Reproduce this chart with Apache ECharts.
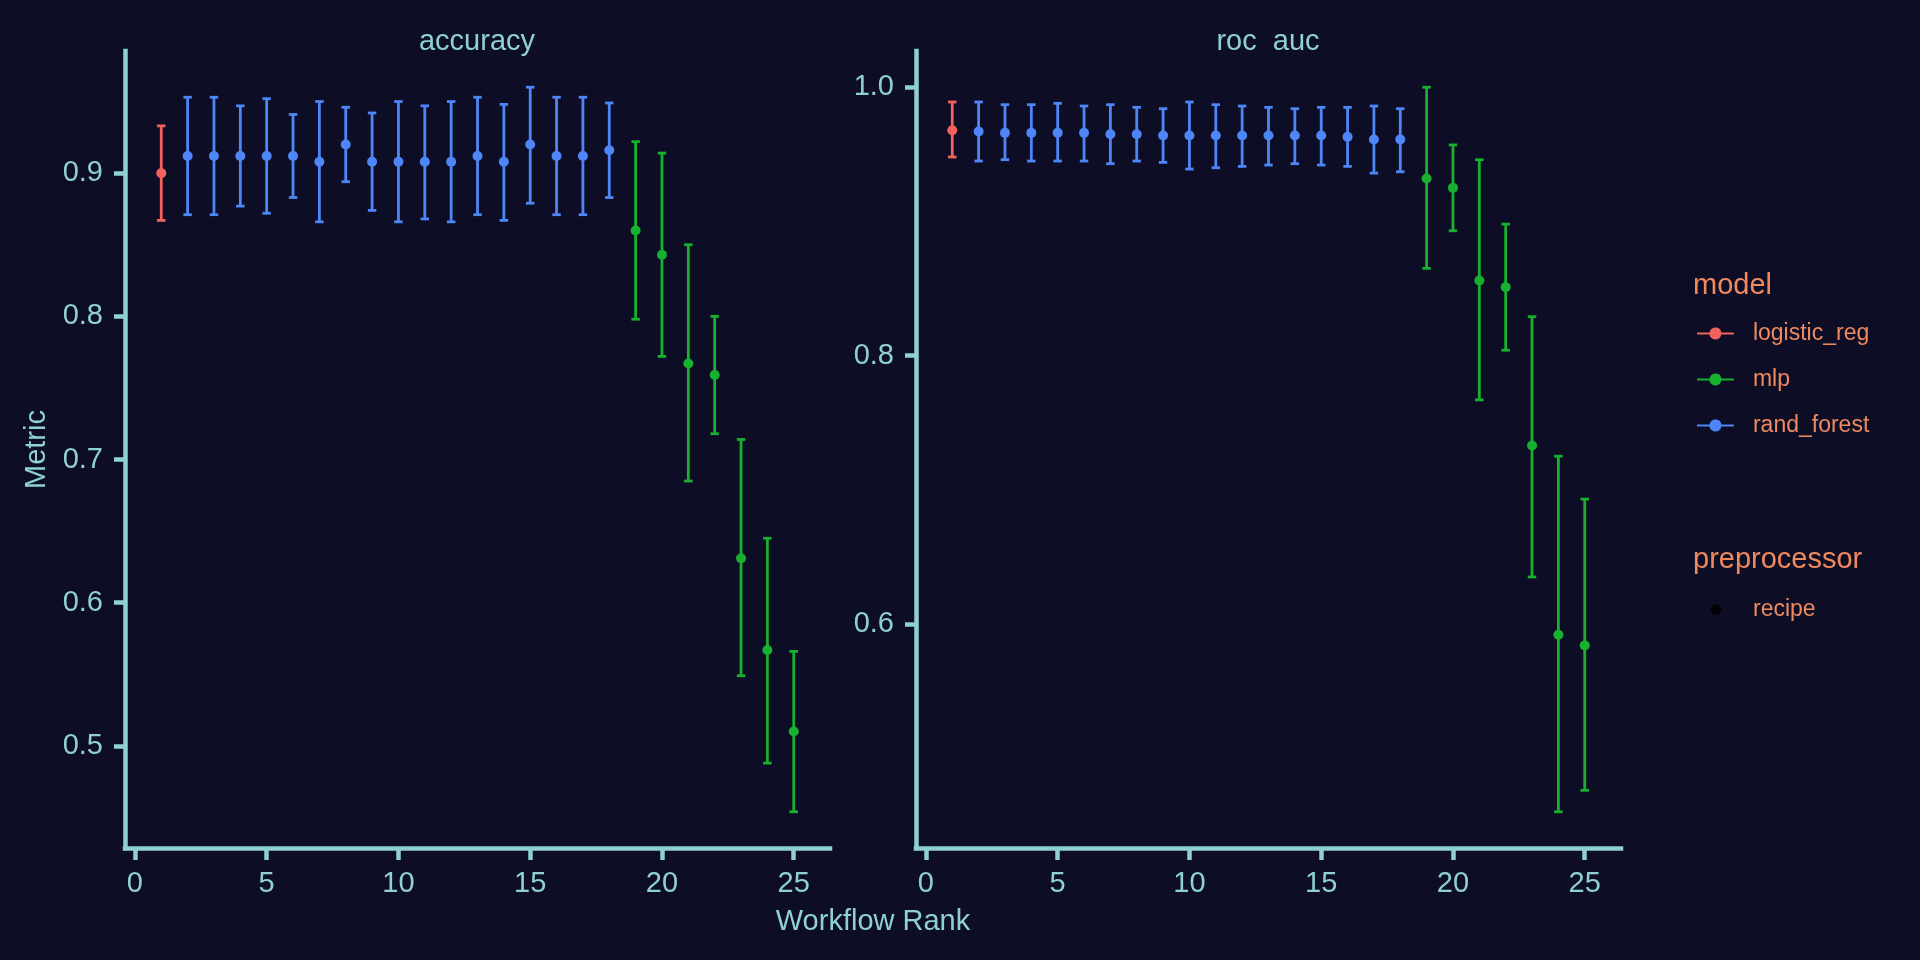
<!DOCTYPE html>
<html>
<head>
<meta charset="utf-8">
<script src="https://cdn.jsdelivr.net/npm/echarts@6/dist/echarts.min.js"></script>
<style>
  html, body { margin: 0; padding: 0; background: #0d0e25; }
  #main { width: 1920px; height: 960px; }
</style>
</head>
<body>
<div id="main"></div>
<script>
// workflow rank and model for each rank
var ranks = [1, 2, 3, 4, 5, 6, 7, 8, 9, 10, 11, 12, 13, 14, 15, 16, 17, 18, 19, 20, 21, 22, 23, 24, 25];
var models = ['logistic_reg',
    'rand_forest', 'rand_forest', 'rand_forest', 'rand_forest', 'rand_forest', 'rand_forest',
    'rand_forest', 'rand_forest', 'rand_forest', 'rand_forest', 'rand_forest', 'rand_forest',
    'rand_forest', 'rand_forest', 'rand_forest', 'rand_forest', 'rand_forest',
    'mlp', 'mlp', 'mlp', 'mlp', 'mlp', 'mlp', 'mlp'];
var modelNames = ['logistic_reg', 'mlp', 'rand_forest'];
var preprocessors = ['recipe'];

// accuracy
var accMean = [0.900, 0.912, 0.912, 0.912, 0.912, 0.912, 0.908, 0.920, 0.908, 0.908, 0.908, 0.908, 0.912,
    0.908, 0.920, 0.912, 0.912, 0.916, 0.860, 0.843, 0.767, 0.759, 0.631, 0.567, 0.510];
var accUpper = [0.933, 0.953, 0.953, 0.947, 0.952, 0.941, 0.950, 0.946, 0.942, 0.950, 0.947, 0.950, 0.953,
    0.948, 0.960, 0.953, 0.953, 0.949, 0.922, 0.914, 0.850, 0.800, 0.714, 0.645, 0.566];
var accLower = [0.867, 0.871, 0.871, 0.877, 0.872, 0.883, 0.866, 0.894, 0.874, 0.866, 0.868, 0.866, 0.871,
    0.867, 0.879, 0.871, 0.871, 0.883, 0.798, 0.772, 0.685, 0.718, 0.549, 0.488, 0.454];

// roc_auc
var rocMean = [0.968, 0.967, 0.966, 0.966, 0.966, 0.966, 0.965, 0.965, 0.964, 0.964, 0.964, 0.964, 0.964,
    0.964, 0.964, 0.963, 0.961, 0.961, 0.932, 0.925, 0.856, 0.851, 0.733, 0.592, 0.584];
var rocUpper = [0.989, 0.989, 0.987, 0.987, 0.988, 0.986, 0.987, 0.985, 0.984, 0.989, 0.987, 0.986, 0.985,
    0.984, 0.985, 0.985, 0.986, 0.984, 1.000, 0.957, 0.946, 0.898, 0.829, 0.725, 0.693];
var rocLower = [0.948, 0.945, 0.946, 0.945, 0.945, 0.945, 0.943, 0.945, 0.944, 0.939, 0.940, 0.941, 0.942,
    0.943, 0.942, 0.941, 0.936, 0.937, 0.865, 0.893, 0.767, 0.804, 0.635, 0.460, 0.476];

var xTicks = [0, 5, 10, 15, 20, 25];
var accTicks = [0.5, 0.6, 0.7, 0.8, 0.9];
var rocTicks = [0.6, 0.8, 1.0];

var colors = {logistic_reg: '#f2625d', mlp: '#17b12f', rand_forest: '#4e86f8'};
var axisColor = '#8fd0d4';
var legendColor = '#f0895e';
var fontFamily = '"Liberation Sans", Arial, sans-serif';
var capWidth = 0.32;

window.onload = function () {
    var chart = echarts.init(document.getElementById('main'));
    chart.setOption(buildOption());
};

// ggplot style range: data range widened by 5% on both sides
function expand(lo, hi) {
    var pad = (hi - lo) * 0.05;
    return [lo - pad, hi + pad];
}

function xAxisFor(idx) {
    var r = expand(ranks[0] - capWidth / 2, ranks[ranks.length - 1] + capWidth / 2);
    return {
        type: 'value', gridIndex: idx, min: r[0], max: r[1],
        axisLine: {onZero: false, lineStyle: {color: axisColor, width: 4.5, cap: 'square'}},
        axisTick: {length: 12, lineStyle: {color: axisColor, width: 4.5}, customValues: xTicks},
        axisLabel: {color: axisColor, fontSize: 29, fontFamily: fontFamily, margin: 21, customValues: xTicks},
        splitLine: {show: false}
    };
}

function yAxisFor(idx, lower, upper, ticks, name) {
    var r = expand(Math.min.apply(null, lower), Math.max.apply(null, upper));
    return {
        type: 'value', gridIndex: idx, min: r[0], max: r[1],
        name: name, nameLocation: 'middle', nameGap: 74,
        nameTextStyle: {color: axisColor, fontSize: 29, fontFamily: fontFamily},
        axisLine: {show: true, onZero: false, lineStyle: {color: axisColor, width: 4.5, cap: 'square'}},
        axisTick: {show: true, length: 11, lineStyle: {color: axisColor, width: 4.5}, customValues: ticks},
        axisLabel: {
            color: axisColor, fontSize: 29, fontFamily: fontFamily, margin: 22, customValues: ticks,
            formatter: function (v) { return v.toFixed(1); }
        },
        splitLine: {show: false}
    };
}

// error bars drawn with the axis scales
function errorBars(idx, lower, upper) {
    var data = ranks.map(function (r, i) { return [r, lower[i], upper[i]]; });
    return {
        type: 'custom', name: 'err' + idx, xAxisIndex: idx, yAxisIndex: idx, z: 2,
        data: data,
        renderItem: function (params, api) {
            var x = api.value(0);
            var top = api.coord([x, api.value(2)]);
            var bot = api.coord([x, api.value(1)]);
            var half = api.size([capWidth, 0])[0] / 2;
            var style = {stroke: colors[models[params.dataIndex]], lineWidth: 2.8};
            return {
                type: 'group',
                children: [
                    {type: 'line', shape: {x1: top[0], y1: top[1], x2: bot[0], y2: bot[1]}, style: style},
                    {type: 'line', shape: {x1: top[0] - half, y1: top[1], x2: top[0] + half, y2: top[1]}, style: style},
                    {type: 'line', shape: {x1: bot[0] - half, y1: bot[1], x2: bot[0] + half, y2: bot[1]}, style: style}
                ]
            };
        }
    };
}

function pointSeries(idx, mean) {
    return modelNames.map(function (m) {
        var data = [];
        ranks.forEach(function (r, i) {
            if (models[i] === m) data.push([r, mean[i]]);
        });
        return {
            type: 'scatter', name: m, xAxisIndex: idx, yAxisIndex: idx, z: 3,
            symbol: 'circle', symbolSize: 10,
            itemStyle: {color: colors[m], opacity: 1},
            data: data
        };
    });
}

function legendText(padLeft) {
    return {color: legendColor, fontSize: 23, fontFamily: fontFamily, lineHeight: 23,
        padding: [0, 0, 0, padLeft]};
}

function buildOption() {
    var lineDot = 'path://M0,5 L12.58,5 A6,6 0 0 1 24.42,5 L37,5 L37,7 L24.42,7 A6,6 0 0 1 12.58,7 L0,7 Z';
    var series = []
        .concat([errorBars(0, accLower, accUpper), errorBars(1, rocLower, rocUpper)])
        .concat(pointSeries(0, accMean))
        .concat(pointSeries(1, rocMean));
    series.push({type: 'scatter', name: preprocessors[0], xAxisIndex: 0, yAxisIndex: 0,
        itemStyle: {color: '#000000'}, data: []});

    return {
        backgroundColor: '#0d0e25',
        animation: false,
        grid: [
            {left: 125, top: 51, width: 705, height: 797},
            {left: 916, top: 51, width: 705, height: 797}
        ],
        xAxis: [xAxisFor(0), xAxisFor(1)],
        yAxis: [
            yAxisFor(0, accLower, accUpper, accTicks, 'Metric'),
            yAxisFor(1, rocLower, rocUpper, rocTicks, '')
        ],
        legend: [
            {
                orient: 'vertical', left: 1697, top: 322, padding: 0,
                itemWidth: 37, itemHeight: 12, itemGap: 23, selectedMode: false,
                textStyle: legendText(14),
                data: modelNames.map(function (m) { return {name: m, icon: lineDot}; })
            },
            {
                orient: 'vertical', left: 1710.5, top: 598, padding: 0,
                itemWidth: 11, itemHeight: 11, selectedMode: false,
                textStyle: legendText(26.5),
                data: [{name: preprocessors[0], icon: 'circle'}]
            }
        ],
        graphic: [
            {type: 'text', x: 477, y: 42, style: {text: 'accuracy', fill: axisColor, font: '29px ' + fontFamily, align: 'center', verticalAlign: 'middle'}},
            {type: 'text', x: 1268, y: 42, style: {text: 'roc  auc', fill: axisColor, font: '29px ' + fontFamily, align: 'center', verticalAlign: 'middle'}},
            {type: 'text', x: 873, y: 922, style: {text: 'Workflow Rank', fill: axisColor, font: '29px ' + fontFamily, align: 'center', verticalAlign: 'middle'}},
            {type: 'text', x: 1693, y: 285.5, style: {text: 'model', fill: legendColor, font: '29px ' + fontFamily, align: 'left', verticalAlign: 'middle'}},
            {type: 'text', x: 1693, y: 560, style: {text: 'preprocessor', fill: legendColor, font: '29px ' + fontFamily, align: 'left', verticalAlign: 'middle'}}
        ],
        series: series
    };
}
</script>
</body>
</html>
